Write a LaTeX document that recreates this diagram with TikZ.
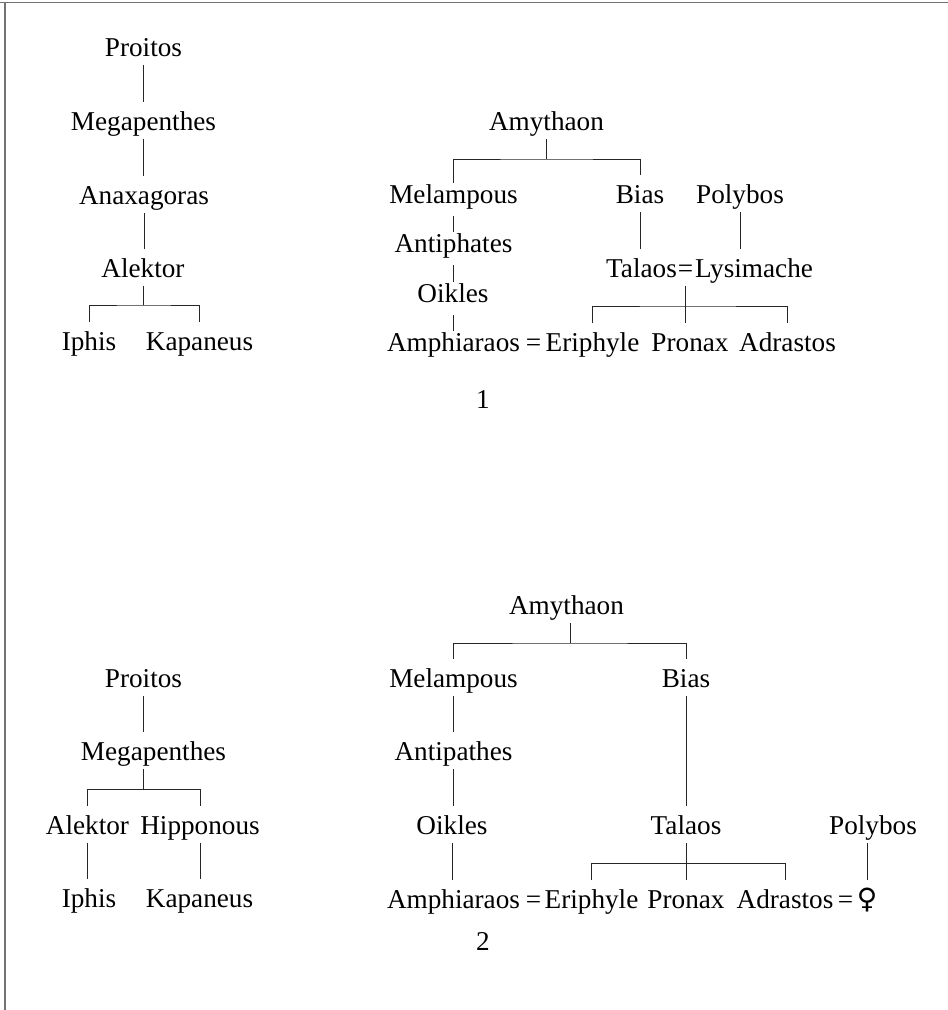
\documentclass[tikz,border=0pt]{standalone}
\usepackage{fontspec}
\setmainfont{Liberation Serif}
\newfontfamily\signfont{DejaVu Sans}
\usepackage{tkz-euclide}
\tikzset{
  person/.style={anchor=base,inner xsep=0pt,inner ysep=6.5pt,text height=14.25pt,text depth=0pt,font=\fontsize{20.4}{24}\selectfont},
  close/.style={person,inner ysep=3pt,text height=12pt,text depth=6.75pt},
  kin/.style={line width=0.6pt,black!85},
  pageframe/.style={line width=1pt,black!55}
}
\begin{document}
\begin{tikzpicture}[x=0.75pt,y=-0.75pt]
    \useasboundingbox (0,0) rectangle (948,1010);
    \draw[pageframe] (0,2.5) -- (948,2.5);
    \draw[pageframe] (5,2.5) -- (5,1010);
    \tkzDefPoints{143/305/b1,546.5/159/b2,686/306/b3,143/789/b4,570/643/b5,686/863/b6}
    \node[person] (proiA) at (143.5,56) {Proitos};
    \node[person] (megA) at (143.5,130) {Megapenthes};
    \node[person] (anaA) at (144,204) {Anaxagoras};
    \node[person] (aleA) at (143,277) {Alektor};
    \node[person] (iphA) at (89,350) {Iphis};
    \node[person] (kapA) at (199.5,350) {Kapaneus};
    \node[person] (amyA) at (546.5,130) {Amythaon};
    \node[close] (melA) at (453.5,203) {Melampous};
    \node[person] (biaA) at (640,203) {Bias};
    \node[person] (polA) at (740,203) {Polybos};
    \node[close] (antA) at (453.5,252) {Antiphates};
    \node[close] (oikA) at (453,302) {Oikles};
    \node[close] (amphA) at (453.5,351) {Amphiaraos};
    \node[person] (eqA1) at (533.5,351) {=};
    \node[person] (eriA) at (592.5,351) {Eriphyle};
    \node[person] (talA) at (641.5,277) {Talaos};
    \node[person] (eqA2) at (685.5,277) {=};
    \node[person] (lysA) at (754,277) {Lysimache};
    \node[person] (pronA) at (690,351) {Pronax};
    \node[person] (adrA) at (787.5,351) {Adrastos};
    \node[person] (numA) at (483,408) {1};
    \draw[kin] (proiA.south) -- (proiA.south |- megA.north);
    \draw[kin] (megA.south) -- (megA.south |- anaA.north);
    \draw[kin] (anaA.south) -- (anaA.south |- aleA.north);
    \draw[kin] (aleA.south) -- (b1);
    \draw[kin] (iphA.north) |- (b1) -| (kapA.north);
    \draw[kin] (amyA.south) -- (b2);
    \draw[kin] (melA.north) |- (b2) -| (biaA.north);
    \draw[kin] (melA.south) -- (melA.south |- antA.north);
    \draw[kin] (antA.south) -- (antA.south |- oikA.north);
    \draw[kin] (oikA.south) -- (oikA.south |- amphA.north);
    \draw[kin] (biaA.south) -- (biaA.south |- talA.north);
    \draw[kin] (polA.south) -- (polA.south |- lysA.north);
    \draw[kin] (eqA2.south) -- (eqA2.south |- pronA.north);
    \draw[kin] (eriA.north) |- (b3) -| (adrA.north);
    \node[person] (proiB) at (143.5,687) {Proitos};
    \node[person] (megB) at (153.5,760) {Megapenthes};
    \node[person] (aleB) at (87.5,834) {Alektor};
    \node[person] (hipB) at (200,834) {Hipponous};
    \node[person] (iphB) at (89,907) {Iphis};
    \node[person] (kapB) at (199.5,907) {Kapaneus};
    \node[person] (amyB) at (566.5,614) {Amythaon};
    \node[person] (melB) at (453.5,687) {Melampous};
    \node[person] (biaB) at (686,687) {Bias};
    \node[person] (antB) at (453.5,760) {Antipathes};
    \node[person] (oikB) at (452,834) {Oikles};
    \node[person] (talB) at (686,834) {Talaos};
    \node[person] (polB) at (873,834) {Polybos};
    \node[person] (amphB) at (453.5,908) {Amphiaraos};
    \node[person] (eqB1) at (533.5,908) {=};
    \node[person] (eriB) at (591.5,908) {Eriphyle};
    \node[person] (pronB) at (686,908) {Pronax};
    \node[person] (adrB) at (785,908) {Adrastos};
    \node[person] (eqB2) at (845.5,908) {=};
    \node[person,font=\signfont\fontsize{21}{24}\selectfont] (femB) at (867,908) {♀};
    \node[person] (numB) at (483,950) {2};
    \draw[kin] (proiB.south) -- (proiB.south |- megB.north);
    \draw[kin] (b4 |- megB.south) -- (b4);
    \draw[kin] (aleB.north) |- (b4) -| (hipB.north);
    \draw[kin] (aleB.south) -- (aleB.south |- iphB.north);
    \draw[kin] (hipB.south) -- (hipB.south |- kapB.north);
    \draw[kin] (b5 |- amyB.south) -- (b5);
    \draw[kin] (melB.north) |- (b5) -| (biaB.north);
    \draw[kin] (melB.south) -- (melB.south |- antB.north);
    \draw[kin] (antB.south) -- (antB.south |- oikB.north);
    \draw[kin] (oikB.south) -- (oikB.south |- amphB.north);
    \draw[kin] (biaB.south) -- (biaB.south |- talB.north);
    \draw[kin] (talB.south) -- (talB.south |- pronB.north);
    \draw[kin] (eriB.north) |- (b6) -| (adrB.north);
    \draw[kin] (femB.north |- polB.south) -- (femB.north);
\end{tikzpicture}
\end{document}
